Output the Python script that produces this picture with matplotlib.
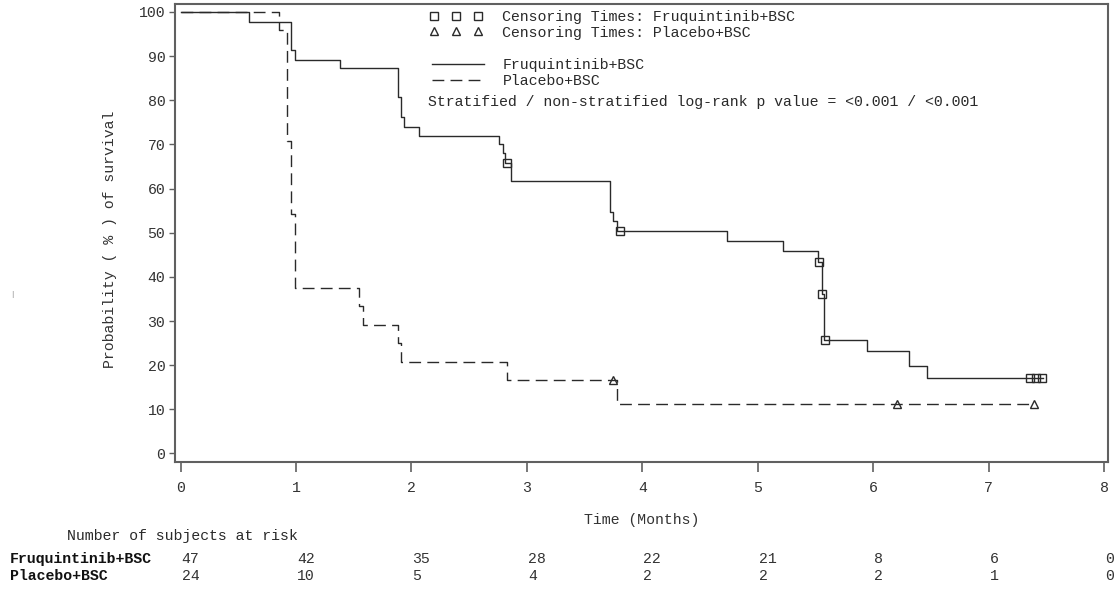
import matplotlib.pyplot as plt
from matplotlib.lines import Line2D

# Kaplan-Meier steps (time in months, survival %)
fru_t = [0.0, 0.59, 0.96, 0.99, 1.38, 1.88, 1.91, 1.94, 2.07, 2.76, 2.79, 2.81, 2.86,
         3.72, 3.75, 3.78, 4.73, 5.22, 5.52, 5.555, 5.575, 5.95, 6.31, 6.47, 7.47]
fru_s = [100.0, 97.7, 91.4, 89.1, 87.3, 80.7, 76.2, 74.0, 71.9, 70.0, 68.0, 65.8, 61.6,
         54.8, 52.7, 50.5, 48.1, 45.9, 43.3, 36.1, 25.7, 23.1, 19.9, 17.2, 17.2]
fru_cens_t = [2.83, 3.81, 5.53, 5.56, 5.585, 7.36, 7.41, 7.46]
fru_cens_s = [65.8, 50.5, 43.3, 36.1, 25.7, 17.2, 17.2, 17.2]

pla_t = [0.0, 0.85, 0.925, 0.955, 0.99, 1.55, 1.58, 1.88, 1.91, 2.83, 3.78, 7.39]
pla_s = [100.0, 95.8, 70.8, 54.2, 37.5, 33.3, 29.2, 25.0, 20.8, 16.7, 11.1, 11.1]
pla_cens_t = [3.75, 6.21, 7.39]
pla_cens_s = [16.7, 11.1, 11.1]

risk_times = [0, 1, 2, 3, 4, 5, 6, 7, 8]
risk_fru = [47, 42, 35, 28, 22, 21, 8, 6, 0]
risk_pla = [24, 10, 5, 4, 2, 2, 2, 1, 0]

arms = ["Fruquintinib+BSC", "Placebo+BSC"]

font = "Liberation Mono"
fs = 10.7
ink = "#2a2a2a"
frame = "#606060"

plt.rcParams["font.family"] = [font, "DejaVu Sans"]

fig = plt.figure(figsize=(11.14, 5.90), dpi=100)
ax = fig.add_axes([175 / 1114, 1 - 462 / 590, 933 / 1114, 458 / 590])

ax.step(fru_t, fru_s, where="post", color=ink, lw=1.0)
ax.step(pla_t, pla_s, where="post", color=ink, lw=1.0, dashes=(8.5, 4.5))
ax.plot(fru_cens_t, fru_cens_s, ls="none", marker="s", ms=6, mfc="none", mec=ink, mew=1.0)
ax.plot(pla_cens_t, pla_cens_s, ls="none", marker="^", ms=6, mfc="none", mec=ink, mew=1.0)

ax.set_xlim(-0.048, 8.035)
ax.set_ylim(-1.93, 101.8)
ax.set_xticks(risk_times)
ax.set_yticks(range(0, 101, 10))
for sp in ax.spines.values():
    sp.set_color(frame)
    sp.set_linewidth(1.5)
ax.tick_params(axis="x", length=7, width=1.2, color=frame, pad=7, labelsize=fs, labelcolor="#333333")
ax.tick_params(axis="y", length=4, width=1.0, color=frame, pad=3, labelsize=fs, labelcolor="#333333")

ax.set_ylabel("Probability ( % ) of survival", fontsize=fs, color="#333333")
ax.yaxis.set_label_coords(-0.062, 0.487)
ax.set_xlabel("Time (Months)", fontsize=fs, color="#333333")
ax.xaxis.set_label_coords(0.5005, -0.112)

# legends
cens_handles = [Line2D([], [], ls="none", marker="s", ms=6, mfc="none", mec=ink, mew=1.0),
                Line2D([], [], ls="none", marker="^", ms=6, mfc="none", mec=ink, mew=1.0)]
leg1 = ax.legend(cens_handles, ["Censoring Times: " + a for a in arms],
                 loc="upper left", bbox_to_anchor=(0.2733, 0.9865), frameon=False,
                 numpoints=3, handlelength=3.5, handletextpad=1.35, labelspacing=0.1,
                 borderpad=0, borderaxespad=0, prop={"family": font, "size": fs})
for t in leg1.get_texts():
    t.set_color(ink)
ax.add_artist(leg1)

line_handles = [Line2D([], [], color=ink, lw=1.0),
                Line2D([], [], color=ink, lw=1.0, dashes=(8.5, 4.5))]
leg2 = ax.legend(line_handles, arms,
                 loc="upper left", bbox_to_anchor=(0.2755, 0.8815), frameon=False,
                 handlelength=3.5, handletextpad=1.25, labelspacing=0.1,
                 borderpad=0, borderaxespad=0, prop={"family": font, "size": fs})
for t in leg2.get_texts():
    t.set_color(ink)

ax.text(0.2712, 0.786, "Stratified / non-stratified log-rank p value = <0.001 / <0.001",
        transform=ax.transAxes, fontsize=fs, color=ink, va="center", ha="left")

# number at risk table
tr = ax.get_xaxis_transform()
fig.text(67 / 1114, 1 - 536 / 590, "Number of subjects at risk", fontsize=fs, color=ink, va="center")
for y_row, arm, counts in [(-0.2118, arms[0], risk_fru), (-0.249, arms[1], risk_pla)]:
    fig.text(10 / 1114, 1 - (462 - y_row * 458) / 590, arm, fontsize=fs, fontweight="bold",
             color="#111111", va="center")
    for t, n in zip(risk_times, counts):
        ax.text(t + 0.01, y_row, str(n), transform=tr, fontsize=fs, color="#333333",
                va="center", ha="left", clip_on=False)

fig.text(12 / 1114, 1 - 295 / 590, "|", fontsize=5, color="#888888", ha="center", va="center")

plt.savefig("out.png", dpi=100)
